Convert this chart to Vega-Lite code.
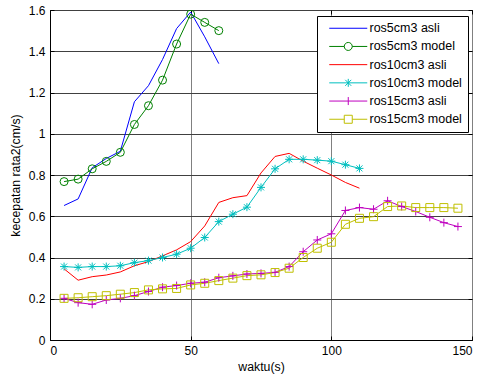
{
  "$schema": "https://vega.github.io/schema/vega-lite/v6.json",
  "width": 422,
  "height": 330,
  "autosize": {"type": "none"},
  "padding": {"left": 50, "top": 10, "right": 9, "bottom": 37},
  "background": "white",
  "config": {
    "font": "Liberation Sans",
    "view": {"stroke": "black", "strokeWidth": 1},
    "axis": {
      "labelFont": "Liberation Sans",
      "titleFont": "Liberation Sans",
      "labelFontSize": 12,
      "titleFontSize": 12.3,
      "titleFontWeight": "normal",
      "labelColor": "black",
      "titleColor": "black",
      "domainColor": "black",
      "tickColor": "black",
      "tickSize": -4,
      "labelPadding": 9,
      "gridOpacity": 1,
      "gridWidth": 1
    }
  },
  "datasets": {
    "d": [
      {"series": "ros5cm3 asli", "t": 5, "v": 0.652},
      {"series": "ros5cm3 asli", "t": 10, "v": 0.684},
      {"series": "ros5cm3 asli", "t": 15, "v": 0.835},
      {"series": "ros5cm3 asli", "t": 20, "v": 0.88},
      {"series": "ros5cm3 asli", "t": 25, "v": 0.915},
      {"series": "ros5cm3 asli", "t": 30, "v": 1.155},
      {"series": "ros5cm3 asli", "t": 35, "v": 1.233},
      {"series": "ros5cm3 asli", "t": 40, "v": 1.36},
      {"series": "ros5cm3 asli", "t": 45, "v": 1.51},
      {"series": "ros5cm3 asli", "t": 50, "v": 1.59},
      {"series": "ros5cm3 asli", "t": 55, "v": 1.47},
      {"series": "ros5cm3 asli", "t": 60, "v": 1.34},
      {"series": "ros5cm3 model", "t": 5, "v": 0.768},
      {"series": "ros5cm3 model", "t": 10, "v": 0.78},
      {"series": "ros5cm3 model", "t": 15, "v": 0.83},
      {"series": "ros5cm3 model", "t": 20, "v": 0.866},
      {"series": "ros5cm3 model", "t": 25, "v": 0.91},
      {"series": "ros5cm3 model", "t": 30, "v": 1.045},
      {"series": "ros5cm3 model", "t": 35, "v": 1.136},
      {"series": "ros5cm3 model", "t": 40, "v": 1.26},
      {"series": "ros5cm3 model", "t": 45, "v": 1.435},
      {"series": "ros5cm3 model", "t": 50, "v": 1.58},
      {"series": "ros5cm3 model", "t": 55, "v": 1.54},
      {"series": "ros5cm3 model", "t": 60, "v": 1.5},
      {"series": "ros10cm3 asli", "t": 5, "v": 0.345},
      {"series": "ros10cm3 asli", "t": 10, "v": 0.29},
      {"series": "ros10cm3 asli", "t": 15, "v": 0.307},
      {"series": "ros10cm3 asli", "t": 20, "v": 0.315},
      {"series": "ros10cm3 asli", "t": 25, "v": 0.33},
      {"series": "ros10cm3 asli", "t": 30, "v": 0.36},
      {"series": "ros10cm3 asli", "t": 35, "v": 0.38},
      {"series": "ros10cm3 asli", "t": 40, "v": 0.408},
      {"series": "ros10cm3 asli", "t": 45, "v": 0.437},
      {"series": "ros10cm3 asli", "t": 50, "v": 0.477},
      {"series": "ros10cm3 asli", "t": 55, "v": 0.553},
      {"series": "ros10cm3 asli", "t": 60, "v": 0.667},
      {"series": "ros10cm3 asli", "t": 65, "v": 0.69},
      {"series": "ros10cm3 asli", "t": 70, "v": 0.7},
      {"series": "ros10cm3 asli", "t": 75, "v": 0.81},
      {"series": "ros10cm3 asli", "t": 80, "v": 0.89},
      {"series": "ros10cm3 asli", "t": 85, "v": 0.905},
      {"series": "ros10cm3 asli", "t": 90, "v": 0.867},
      {"series": "ros10cm3 asli", "t": 95, "v": 0.833},
      {"series": "ros10cm3 asli", "t": 100, "v": 0.8},
      {"series": "ros10cm3 asli", "t": 105, "v": 0.764},
      {"series": "ros10cm3 asli", "t": 110, "v": 0.736},
      {"series": "ros10cm3 model", "t": 5, "v": 0.356},
      {"series": "ros10cm3 model", "t": 10, "v": 0.352},
      {"series": "ros10cm3 model", "t": 15, "v": 0.356},
      {"series": "ros10cm3 model", "t": 20, "v": 0.356},
      {"series": "ros10cm3 model", "t": 25, "v": 0.36},
      {"series": "ros10cm3 model", "t": 30, "v": 0.375},
      {"series": "ros10cm3 model", "t": 35, "v": 0.385},
      {"series": "ros10cm3 model", "t": 40, "v": 0.4},
      {"series": "ros10cm3 model", "t": 45, "v": 0.416},
      {"series": "ros10cm3 model", "t": 50, "v": 0.445},
      {"series": "ros10cm3 model", "t": 55, "v": 0.497},
      {"series": "ros10cm3 model", "t": 60, "v": 0.574},
      {"series": "ros10cm3 model", "t": 65, "v": 0.61},
      {"series": "ros10cm3 model", "t": 70, "v": 0.644},
      {"series": "ros10cm3 model", "t": 75, "v": 0.74},
      {"series": "ros10cm3 model", "t": 80, "v": 0.83},
      {"series": "ros10cm3 model", "t": 85, "v": 0.876},
      {"series": "ros10cm3 model", "t": 90, "v": 0.876},
      {"series": "ros10cm3 model", "t": 95, "v": 0.872},
      {"series": "ros10cm3 model", "t": 100, "v": 0.867},
      {"series": "ros10cm3 model", "t": 105, "v": 0.85},
      {"series": "ros10cm3 model", "t": 110, "v": 0.832},
      {"series": "ros15cm3 asli", "t": 5, "v": 0.202},
      {"series": "ros15cm3 asli", "t": 10, "v": 0.181},
      {"series": "ros15cm3 asli", "t": 15, "v": 0.173},
      {"series": "ros15cm3 asli", "t": 20, "v": 0.194},
      {"series": "ros15cm3 asli", "t": 25, "v": 0.202},
      {"series": "ros15cm3 asli", "t": 30, "v": 0.215},
      {"series": "ros15cm3 asli", "t": 35, "v": 0.235},
      {"series": "ros15cm3 asli", "t": 40, "v": 0.256},
      {"series": "ros15cm3 asli", "t": 45, "v": 0.264},
      {"series": "ros15cm3 asli", "t": 50, "v": 0.275},
      {"series": "ros15cm3 asli", "t": 55, "v": 0.28},
      {"series": "ros15cm3 asli", "t": 60, "v": 0.302},
      {"series": "ros15cm3 asli", "t": 65, "v": 0.311},
      {"series": "ros15cm3 asli", "t": 70, "v": 0.32},
      {"series": "ros15cm3 asli", "t": 75, "v": 0.323},
      {"series": "ros15cm3 asli", "t": 80, "v": 0.328},
      {"series": "ros15cm3 asli", "t": 85, "v": 0.356},
      {"series": "ros15cm3 asli", "t": 90, "v": 0.428},
      {"series": "ros15cm3 asli", "t": 95, "v": 0.485},
      {"series": "ros15cm3 asli", "t": 100, "v": 0.515},
      {"series": "ros15cm3 asli", "t": 105, "v": 0.628},
      {"series": "ros15cm3 asli", "t": 110, "v": 0.642},
      {"series": "ros15cm3 asli", "t": 115, "v": 0.634},
      {"series": "ros15cm3 asli", "t": 120, "v": 0.675},
      {"series": "ros15cm3 asli", "t": 125, "v": 0.647},
      {"series": "ros15cm3 asli", "t": 130, "v": 0.623},
      {"series": "ros15cm3 asli", "t": 135, "v": 0.595},
      {"series": "ros15cm3 asli", "t": 140, "v": 0.569},
      {"series": "ros15cm3 asli", "t": 145, "v": 0.55},
      {"series": "ros15cm3 model", "t": 5, "v": 0.202},
      {"series": "ros15cm3 model", "t": 10, "v": 0.205},
      {"series": "ros15cm3 model", "t": 15, "v": 0.21},
      {"series": "ros15cm3 model", "t": 20, "v": 0.215},
      {"series": "ros15cm3 model", "t": 25, "v": 0.222},
      {"series": "ros15cm3 model", "t": 30, "v": 0.23},
      {"series": "ros15cm3 model", "t": 35, "v": 0.243},
      {"series": "ros15cm3 model", "t": 40, "v": 0.248},
      {"series": "ros15cm3 model", "t": 45, "v": 0.25},
      {"series": "ros15cm3 model", "t": 50, "v": 0.267},
      {"series": "ros15cm3 model", "t": 55, "v": 0.275},
      {"series": "ros15cm3 model", "t": 60, "v": 0.288},
      {"series": "ros15cm3 model", "t": 65, "v": 0.3},
      {"series": "ros15cm3 model", "t": 70, "v": 0.312},
      {"series": "ros15cm3 model", "t": 75, "v": 0.316},
      {"series": "ros15cm3 model", "t": 80, "v": 0.327},
      {"series": "ros15cm3 model", "t": 85, "v": 0.348},
      {"series": "ros15cm3 model", "t": 90, "v": 0.4},
      {"series": "ros15cm3 model", "t": 95, "v": 0.445},
      {"series": "ros15cm3 model", "t": 100, "v": 0.474},
      {"series": "ros15cm3 model", "t": 105, "v": 0.561},
      {"series": "ros15cm3 model", "t": 110, "v": 0.59},
      {"series": "ros15cm3 model", "t": 115, "v": 0.598},
      {"series": "ros15cm3 model", "t": 120, "v": 0.647},
      {"series": "ros15cm3 model", "t": 125, "v": 0.65},
      {"series": "ros15cm3 model", "t": 130, "v": 0.642},
      {"series": "ros15cm3 model", "t": 135, "v": 0.642},
      {"series": "ros15cm3 model", "t": 140, "v": 0.642},
      {"series": "ros15cm3 model", "t": 145, "v": 0.639}
    ]
  },
  "data": {"name": "d"},
  "resolve": {"axis": {"x": "independent", "y": "independent"}},
  "layer": [
    {
      "mark": {"type": "line", "strokeWidth": 1, "clip": true},
      "encoding": {
        "x": {
          "field": "t", "type": "quantitative",
          "scale": {"domain": [0, 150], "nice": false, "zero": false},
          "axis": {"orient": "bottom", "values": [0, 50, 100, 150], "title": "waktu(s)", "grid": true, "gridColor": "#808080", "titlePadding": 4}
        },
        "y": {
          "field": "v", "type": "quantitative",
          "scale": {"domain": [0, 1.6], "nice": false},
          "axis": {"orient": "left", "values": [0, 0.2, 0.4, 0.6, 0.8, 1, 1.2, 1.4, 1.6], "format": "~g", "title": "kecepatan rata2(cm/s)", "grid": true, "gridColor": "#404040", "titlePadding": 6}
        },
        "color": {
          "field": "series", "type": "nominal",
          "scale": {
            "domain": ["ros5cm3 asli", "ros5cm3 model", "ros10cm3 asli", "ros10cm3 model", "ros15cm3 asli", "ros15cm3 model"],
            "range": ["#0000FF", "#008000", "#FF0000", "#00BFBF", "#BF00BF", "#BFBF00"]
          },
          "legend": {
            "title": null,
            "orient": "none",
            "legendX": 267,
            "legendY": 6,
            "fillColor": "white",
            "strokeColor": "black",
            "padding": 6,
            "labelFont": "Liberation Sans",
            "labelFontSize": 12.5,
            "labelColor": "black",
            "labelOffset": 15,
            "rowPadding": 5.2,
            "symbolSize": 64,
            "symbolOffset": 19,
            "symbolStrokeWidth": 1,
            "symbolType": "M-4.75,0H4.75",
            "labelLimit": 200,
            "encode": {
              "symbols": {
                "update": {
                  "shape": {"signal": "datum.value === 'ros5cm3 model' ? 'M-4.75,0H-1M1,0H4.75M-1,0A1,1 0 1,1 1,0A1,1 0 1,1 -1,0' : datum.value === 'ros10cm3 model' ? 'M-4.75,0H4.75M0,-1V1M-0.75,-0.75L0.75,0.75M-0.75,0.75L0.75,-0.75' : datum.value === 'ros15cm3 asli' ? 'M-4.75,0H4.75M0,-1V1' : datum.value === 'ros15cm3 model' ? 'M-4.75,0H-1M1,0H4.75M-1,-1H1V1H-1Z' : 'M-4.75,0H4.75'"},
                  "fill": {"value": "transparent"},
                  "stroke": {"scale": "color", "field": "value"},
                  "strokeWidth": {"value": 1},
                  "size": {"value": 64}
                }
              }
            }
          }
        }
      }
    },
    {
      "transform": [{"filter": "datum.series !== 'ros5cm3 asli' && datum.series !== 'ros10cm3 asli'"}],
      "mark": {"type": "point", "filled": false, "strokeWidth": 1, "opacity": 1, "clip": true},
      "encoding": {
        "x": {"field": "t", "type": "quantitative", "axis": {"orient": "top", "values": [0, 50, 100, 150], "labels": false, "domain": false, "grid": false, "title": null}},
        "y": {"field": "v", "type": "quantitative", "axis": {"orient": "right", "values": [0, 0.2, 0.4, 0.6, 0.8, 1, 1.2, 1.4, 1.6], "labels": false, "domain": false, "grid": false, "title": null}},
        "color": {"field": "series", "type": "nominal"},
        "shape": {
          "field": "series", "type": "nominal",
          "scale": {
            "domain": ["ros5cm3 model", "ros10cm3 model", "ros15cm3 asli", "ros15cm3 model"],
            "range": ["circle", "M-1,0H1M0,-1V1M-0.75,-0.75L0.75,0.75M-0.75,0.75L0.75,-0.75", "M-1,0H1M0,-1V1", "square"]
          },
          "legend": null
        },
        "size": {"value": 64}
      }
    }
  ]
}
